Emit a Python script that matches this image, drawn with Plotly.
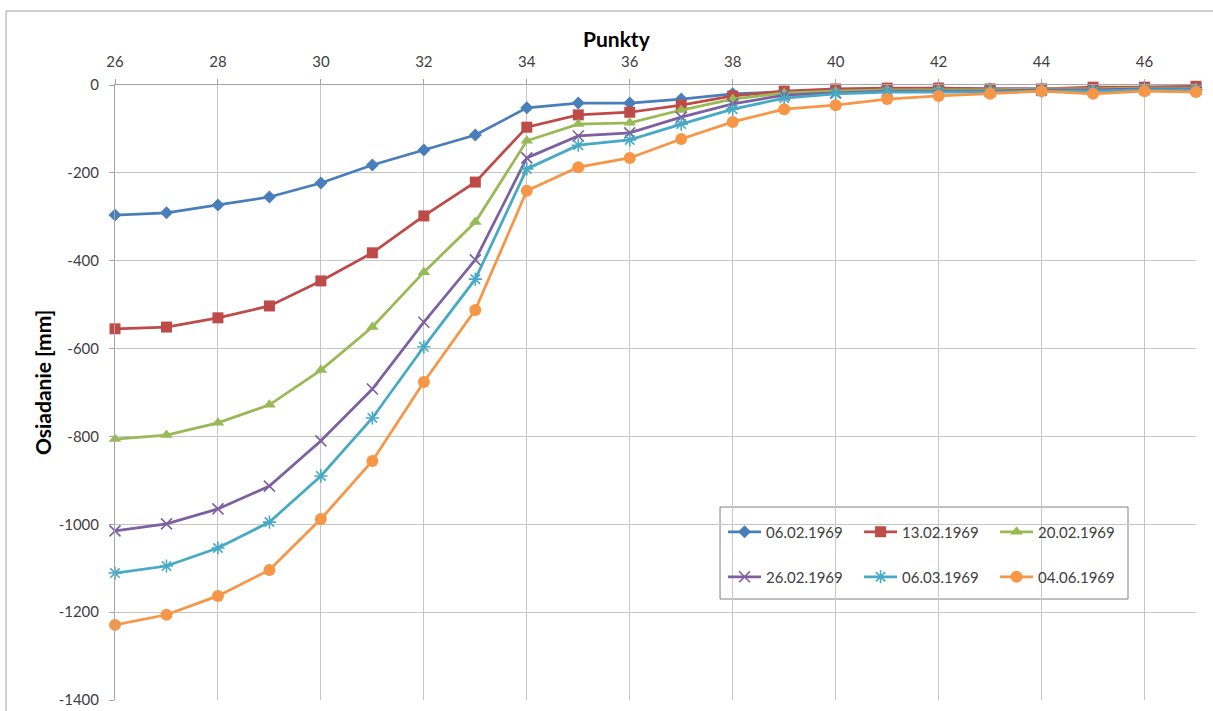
import plotly.graph_objects as go

# Measurement points along the profile
punkty = list(range(26, 48))

# Settlement [mm] at each point for every survey date
s_06_02 = [-296, -291, -273, -255, -223, -182, -148, -114, -52, -41, -41, -32,
           -20, -16, -11, -9, -7, -9, -9, -7, -5, -5]
s_13_02 = [-555, -551, -530, -503, -446, -382, -298, -221, -96, -68, -62, -46,
           -25, -14, -9, -7, -7, -9, -9, -5, -5, -3]
s_20_02 = [-806, -797, -769, -728, -649, -551, -426, -312, -127, -89, -86, -57,
           -32, -18, -14, -11, -11, -11, -9, -9, -7, -7]
s_26_02 = [-1015, -999, -965, -913, -810, -692, -540, -398, -166, -116, -109, -73,
           -43, -23, -18, -14, -14, -14, -11, -11, -9, -9]
s_06_03 = [-1111, -1095, -1054, -995, -890, -758, -596, -442, -191, -137, -125, -89,
           -55, -30, -20, -16, -16, -16, -14, -14, -11, -11]
s_04_06 = [-1229, -1206, -1163, -1104, -988, -856, -676, -512, -241, -187, -166, -123,
           -84, -55, -46, -32, -25, -20, -14, -20, -14, -16]

dates = ["06.02.1969", "13.02.1969", "20.02.1969",
         "26.02.1969", "06.03.1969", "04.06.1969"]
values = [s_06_02, s_13_02, s_20_02, s_26_02, s_06_03, s_04_06]

# Axis ticks (labels written with a plain hyphen)
x_ticks = list(range(26, 48, 2))
y_ticks = [0, -200, -400, -600, -800, -1000, -1200, -1400]
y_tick_labels = ["0", "-200", "-400", "-600", "-800", "-1000", "-1200", "-1400"]

colors = ["#4A7EBB", "#BE4B48", "#98B954", "#7D60A0", "#46AAC5", "#F79646"]
symbols = ["diamond", "square", "triangle-up", "x-thin-open", "asterisk-open", "circle"]
sizes = [10, 11, 11, 11, 11, 12]

fig = go.Figure()
for i, (name, ys) in enumerate(zip(dates, values)):
    thin = symbols[i].endswith("-open")
    fig.add_trace(go.Scatter(
        x=punkty, y=ys, name=name, mode="lines+markers",
        line=dict(color=colors[i], width=2.75),
        marker=dict(symbol=symbols[i], size=sizes[i], color=colors[i],
                    line=dict(color=colors[i], width=1.6 if thin else 0)),
        cliponaxis=False,
        legend="legend" if i < 3 else "legend2",
    ))

grid = "#C6C6C6"
axis_font = dict(family="Lato, 'Open Sans', sans-serif", size=15, color="#404040")

fig.update_xaxes(
    side="top", range=[26, 47], tickvals=x_ticks,
    showgrid=True, gridcolor=grid, gridwidth=1,
    showline=True, linecolor="#A6A6A6", linewidth=1,
    ticks="outside", ticklen=5, tickcolor="#A6A6A6", ticklabelstandoff=6,
    zeroline=False, tickfont=axis_font,
)
fig.update_yaxes(
    range=[-1400, 0], tickvals=y_ticks, ticktext=y_tick_labels,
    showgrid=True, gridcolor=grid, gridwidth=1,
    showline=True, linecolor="#A6A6A6", linewidth=1,
    ticks="outside", ticklen=5, tickcolor="#A6A6A6", ticklabelstandoff=7,
    zeroline=False, tickfont=axis_font,
)

legend_common = dict(
    orientation="h", xanchor="left", yanchor="middle",
    bgcolor="rgba(0,0,0,0)", borderwidth=0,
    font=dict(family="Lato, 'Open Sans', sans-serif", size=15, color="#404040"),
    entrywidth=88, entrywidthmode="pixels", itemwidth=33,
)

title_font = dict(family="Lato, 'Open Sans', sans-serif", size=21, color="#000000")

fig.update_layout(
    width=1213, height=711,
    margin=dict(l=115, r=17, t=85, b=11, autoexpand=False),
    paper_bgcolor="white", plot_bgcolor="white",
    legend=dict(x=0.5625, y=0.273, **legend_common),
    legend2=dict(x=0.5625, y=0.200, **legend_common),
    annotations=[
        dict(text="<b>Punkty</b>", xref="paper", yref="paper", x=0.4644, y=1.0764,
             showarrow=False, font=title_font, xanchor="center", yanchor="middle"),
        dict(text="<b>Osiadanie [mm]</b>", xref="paper", yref="paper", x=-0.0675,
             y=0.5154, showarrow=False, font=title_font, textangle=-90,
             xanchor="center", yanchor="middle"),
    ],
    shapes=[
        # frame around the legend
        dict(type="rect", xref="paper", yref="paper", x0=0.5597, x1=0.9371,
             y0=0.1642, y1=0.3138, line=dict(color="#808080", width=1),
             fillcolor="white", layer="below"),
        # outer chart frame
        dict(type="rect", xref="paper", yref="paper", x0=-0.1008, x1=1.03,
             y0=-0.05, y1=1.1203, line=dict(color="#A0A0A0", width=1),
             fillcolor="rgba(0,0,0,0)", layer="below"),
    ],
)

fig.write_html("out.html")
